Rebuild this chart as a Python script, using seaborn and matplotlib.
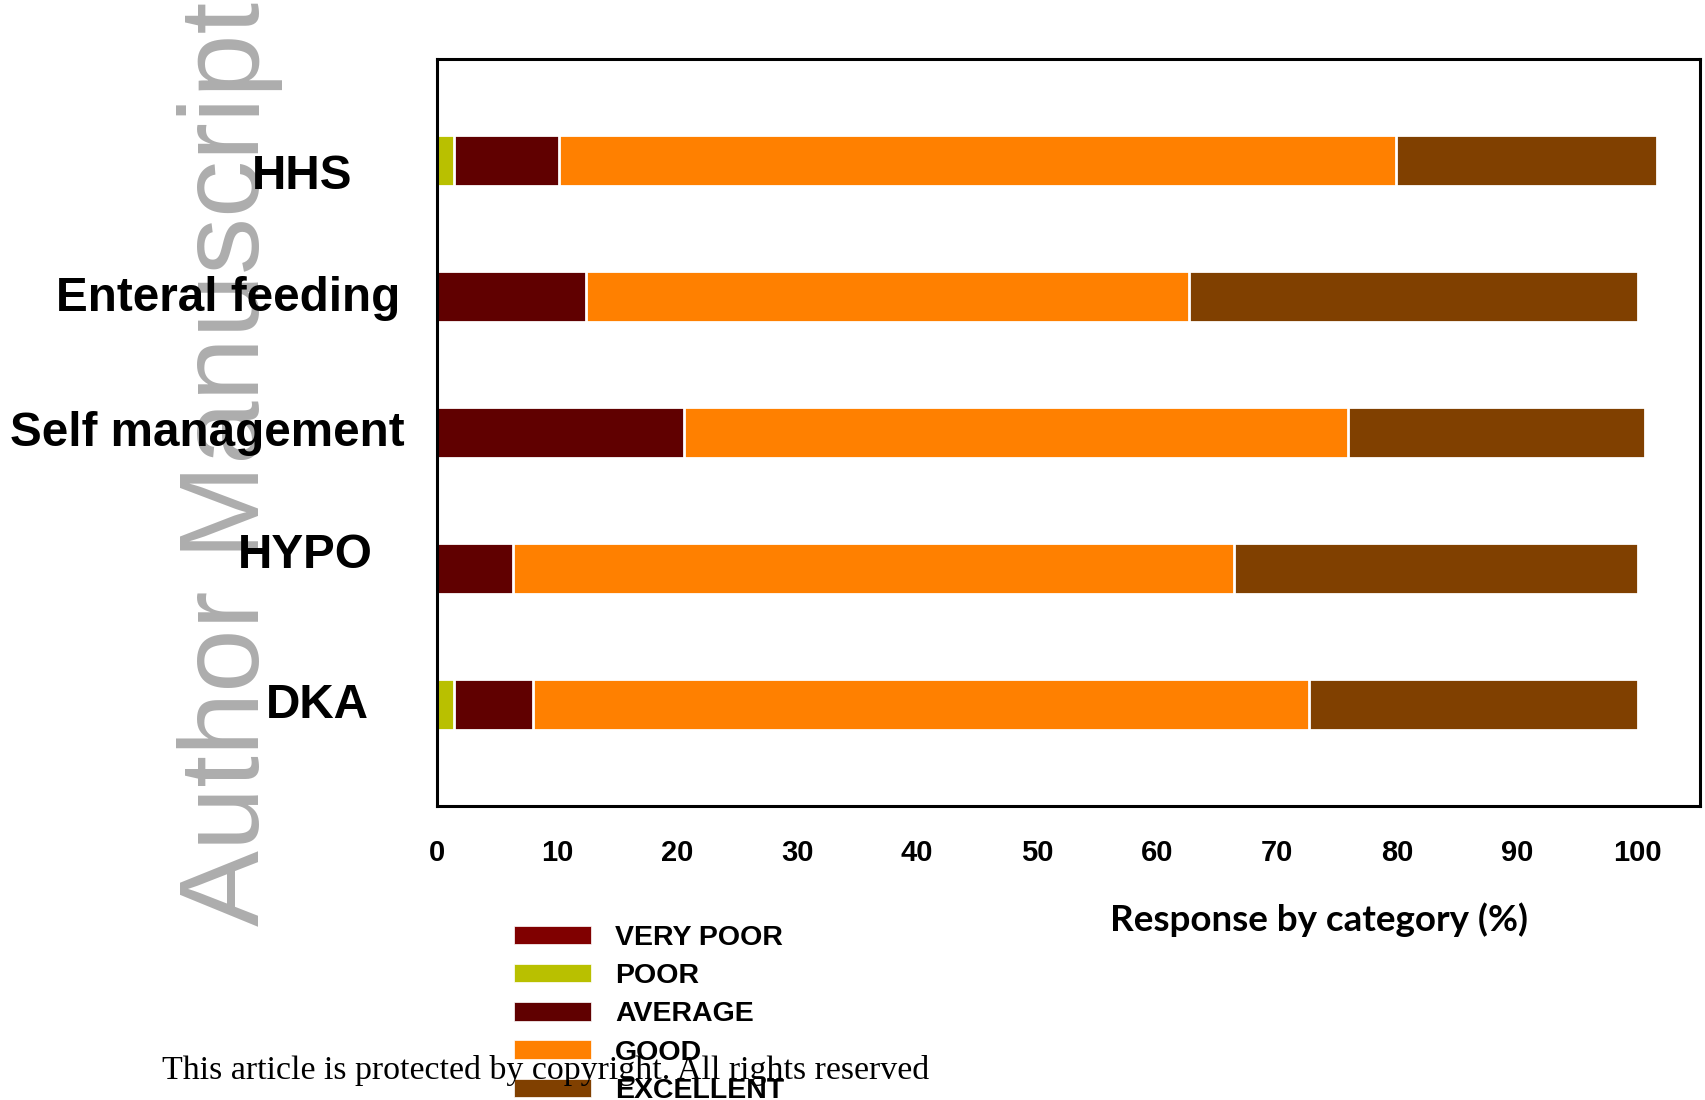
import numpy as np
import pandas as pd
import matplotlib
matplotlib.use('Agg')
import matplotlib.pyplot as plt
import matplotlib.patches as mpatches
import seaborn as sns

# data (percent of responses)
categories = ['HHS', 'Enteral feeding', 'Self management', 'HYPO', 'DKA']
very_poor = [0.0, 0.0, 0.0, 0.0, 0.0]
poor = [1.4, 0.0, 0.0, 0.0, 1.4]
average = [8.75, 12.4, 20.6, 6.3, 6.6]
good = [69.75, 50.2, 55.25, 60.1, 64.6]
excellent = [21.7, 37.4, 24.75, 33.6, 27.4]
legend_names = ['VERY POOR', 'POOR', 'AVERAGE', 'GOOD', 'EXCELLENT']
xticks = [0, 10, 20, 30, 40, 50, 60, 70, 80, 90, 100]

colors = ['#800000', '#B9C000', '#600000', '#FF8000', '#804000']

sns.set_style('white')
plt.rcParams['font.family'] = ['Liberation Sans', 'DejaVu Sans']
plt.rcParams['text.color'] = 'black'
plt.rcParams['xtick.color'] = 'black'
plt.rcParams['axes.labelcolor'] = 'black'

fig = plt.figure(figsize=(17.05, 11), dpi=100)
ax = fig.add_axes([437/1705, 294/1100, 1263/1705, 747/1100])

series = [very_poor, poor, average, good, excellent]
cum = np.cumsum(np.array(series), axis=0)
df = pd.DataFrame(cum.T, columns=legend_names)
df['cat'] = categories

# stacked bars: draw cumulative totals from the largest down
for name, col in reversed(list(zip(legend_names, colors))):
    sns.barplot(data=df, x=name, y='cat', orient='h', color=col, saturation=1,
                width=0.376, edgecolor='white', linewidth=2, ax=ax)

ax.set_xlim(0, 105.2)
ax.set_ylim(4.75, -0.75)
ax.set_xticks(xticks)
ax.set_xticklabels([str(t) for t in xticks], fontsize=21, fontweight='bold', color='black')
ax.tick_params(axis='x', direction='in', length=3, color='white', pad=24)
ax.tick_params(axis='y', left=False, labelleft=False)
ax.set_ylabel('')
for s in ax.spines.values():
    s.set_visible(True)
    s.set_color('black')
    s.set_linewidth(2.2)

# category labels, hand placed as in the original
label_dx = [-85, -37, -32, -64, -68]
label_dy = [-28.5, -14, -13.5, 0, -14]
for i, cat in enumerate(categories):
    ax.annotate(cat, xy=(0, i), xycoords=ax.get_yaxis_transform(),
                xytext=(label_dx[i], label_dy[i]), textcoords='offset pixels',
                ha='right', va='baseline', fontsize=34.3, fontweight='bold',
                color='black', zorder=5, annotation_clip=False)

ax.set_xlabel('Response by category (%)', fontsize=26.5, fontweight='bold',
              family=['Lato', 'DejaVu Sans'], va='center', color='black')
ax.xaxis.set_label_coords((1319 - 437) / 1263, -(920 - 806) / 747)

handles = [mpatches.Patch(facecolor=c, edgecolor='white', linewidth=0.5) for c in colors]
leg = fig.legend(handles, legend_names, loc='upper left',
                 bbox_to_anchor=(514/1705, 1 - 925/1100),
                 frameon=False, borderpad=0, borderaxespad=0, handlelength=2.7,
                 handleheight=0.62, handletextpad=0.85, labelspacing=0.43,
                 prop={'family': 'Liberation Sans', 'weight': 'bold', 'size': 20.5})
for t in leg.get_texts():
    t.set_color('black')

# watermark and footer
fig.text(259/1705, 1 - 926/1100, 'Author Manuscript', rotation=90, rotation_mode='anchor',
         ha='left', va='baseline', fontsize=82, color='#ADADAD', zorder=-1)
fig.text(546/1705, 1 - 1071/1100, 'This article is protected by copyright. All rights reserved',
         ha='center', va='center', fontsize=24.4, family=['Liberation Serif', 'DejaVu Serif'],
         color='black', zorder=10)

fig.savefig('out.png', dpi=100)
